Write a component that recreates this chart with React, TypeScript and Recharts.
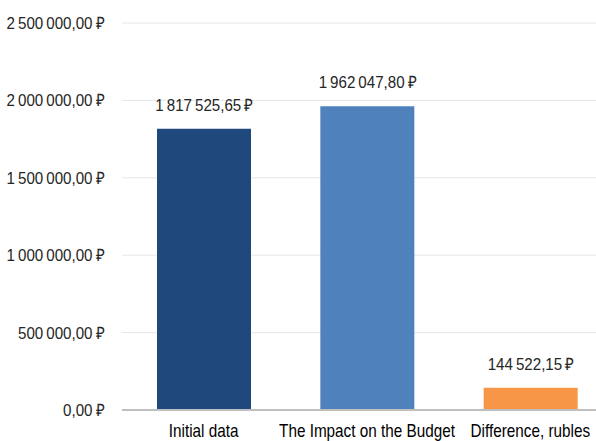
import React from 'react';
import { BarChart, Bar, XAxis, YAxis, CartesianGrid, LabelList, Cell } from 'recharts';

const categories = ['Initial data', 'The Impact on the Budget', 'Difference, rubles'];
const amounts = [1817525.65, 1962047.8, 144522.15];
const barColors = ['#1F497D', '#4F81BD', '#F79646'];
const yTicks = [0, 500000, 1000000, 1500000, 2000000, 2500000];

const data = categories.map((name, i) => ({ name, value: amounts[i] }));

const FONT = '"Liberation Sans", Arial, sans-serif';
const NUM_SIZE = 17;
const NUM_SQUEEZE = 0.89;

// ru-style money: thin-space groups, comma decimals, ruble sign
const formatRub = (v: number) => {
  const [int, dec] = v.toFixed(2).split('.');
  const grouped = int.replace(/\B(?=(\d{3})+(?!\d))/g, '\u2009');
  return `${grouped},${dec}\u2009₽`;
};

// category labels are set in a narrow face, so squeeze them horizontally
const CategoryTick = ({ x, y, payload }: any) => (
  <g transform={`translate(${x},${y}) scale(0.85,1)`}>
    <text x={0} y={25} textAnchor="middle" fill="#000" fontSize={18} fontFamily={FONT}>
      {payload.value}
    </text>
  </g>
);

const MoneyTick = ({ x, y, payload }: any) => (
  <g transform={`translate(${x},${y}) scale(${NUM_SQUEEZE},1)`}>
    <text x={0} y={0} dy={6} textAnchor="end" fill="#262626" fontSize={NUM_SIZE} fontFamily={FONT}>
      {formatRub(payload.value)}
    </text>
  </g>
);

const ValueLabel = ({ x, y, width, value }: any) => (
  <g transform={`translate(${x + width / 2},${y - 18}) scale(${NUM_SQUEEZE},1)`}>
    <text x={0} y={0} textAnchor="middle" fill="#262626" fontSize={NUM_SIZE} fontFamily={FONT}>
      {formatRub(Number(value))}
    </text>
  </g>
);

export default function App() {
  return (
    <div style={{ position: 'absolute', left: 0, top: 0, width: 596, height: 441, overflow: 'hidden', background: '#fff' }}>
      <BarChart
        width={612}
        height={441}
        data={data}
        margin={{ top: 23, right: 0, bottom: 0, left: 0 }}
      >
        <CartesianGrid vertical={false} stroke="#E6E6E6" />
        <XAxis
          dataKey="name"
          height={31}
          axisLine={{ stroke: '#BFBFBF', strokeWidth: 2 }}
          tickLine={false}
          tickSize={0}
          tick={<CategoryTick />}
          interval={0}
        />
        <YAxis
          width={122}
          domain={[0, 2500000]}
          ticks={yTicks}
          axisLine={false}
          tickLine={false}
          tickSize={0}
          tickMargin={18}
          tick={<MoneyTick />}
        />
        <Bar dataKey="value" barSize={94} isAnimationActive={false}>
          {data.map((d, i) => (
            <Cell key={d.name} fill={barColors[i]} />
          ))}
          <LabelList dataKey="value" content={<ValueLabel />} />
        </Bar>
      </BarChart>
    </div>
  );
}
